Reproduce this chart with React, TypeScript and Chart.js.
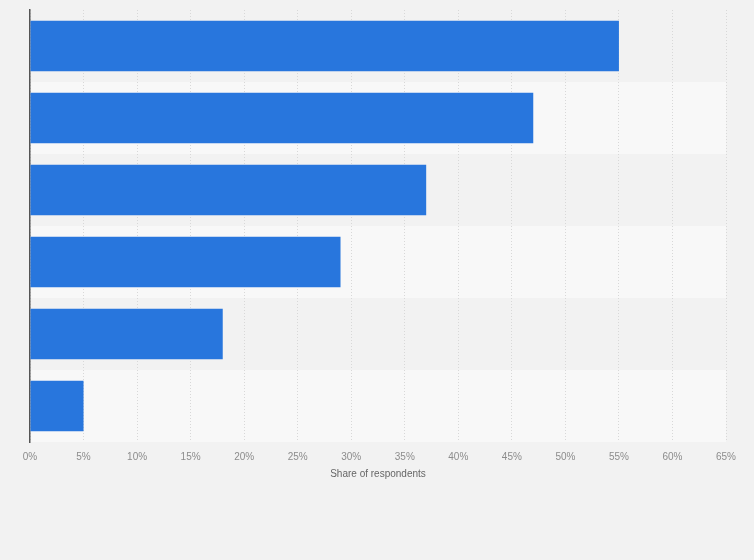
import React, { useEffect, useRef } from "react";
import { Chart, registerables } from "chart.js";

Chart.register(...registerables);

const categories = ["Item 1", "Item 2", "Item 3", "Item 4", "Item 5", "Item 6"];
const shareValues = [55, 47, 37, 29, 18, 5];
const xTickMax = 65;
const xTickStep = 5;
const xAxisTitle = "Share of respondents";

const PAGE_BG = "#f2f2f2";
const BAND_DARK = "#f2f2f2";
const BAND_LIGHT = "#f8f8f8";
const BAR_COLOR = "#2876dd";

const bandPlugin = {
  id: "bands",
  beforeDraw(chart: any) {
    const { ctx, chartArea, scales } = chart;
    ctx.save();
    ctx.fillStyle = PAGE_BG;
    ctx.fillRect(0, 0, chart.width, chart.height);
    const y = scales.y;
    const step = categories.length > 1 ? y.getPixelForValue(1) - y.getPixelForValue(0) : chartArea.bottom - chartArea.top;
    categories.forEach((_, i) => {
      const c = y.getPixelForValue(i);
      ctx.fillStyle = i % 2 === 0 ? BAND_DARK : BAND_LIGHT;
      ctx.fillRect(chartArea.left, c - step / 2, chartArea.right - chartArea.left, step);
    });
    ctx.restore();
  },
};

export default function App() {
  const ref = useRef<HTMLCanvasElement | null>(null);
  useEffect(() => {
    if (!ref.current) return;
    const chart = new Chart(ref.current, {
      type: "bar",
      data: {
        labels: categories,
        datasets: [
          {
            data: shareValues,
            backgroundColor: BAR_COLOR,
            borderWidth: 0,
            categoryPercentage: 0.7,
            barPercentage: 1,
          },
        ],
      },
      options: {
        indexAxis: "y",
        animation: false,
        responsive: false,
        devicePixelRatio: 1,
        layout: { padding: { left: 30, right: 28, top: 10, bottom: 80 } },
        plugins: {
          legend: { display: false },
          tooltip: { enabled: false },
        },
        scales: {
          x: {
            min: 0,
            max: xTickMax,
            ticks: {
              stepSize: xTickStep,
              callback: (v: any) => v + "%",
              color: "#8c8c8c",
              font: { family: "'Liberation Sans', Arial, sans-serif", size: 10 },
              padding: 9,
              maxRotation: 0,
            },
            grid: { color: "#d8d8d8", lineWidth: 1, drawTicks: false },
            border: { display: false, dash: [1, 2] },
            title: {
              display: true,
              text: xAxisTitle,
              color: "#666",
              font: { family: "'Liberation Sans', Arial, sans-serif", size: 10 },
              padding: { top: -4, bottom: 0 },
            },
          },
          y: {
            ticks: { display: false },
            grid: { display: false, drawTicks: false },
            border: { display: true, color: "#555", width: 1.5 },
          },
        },
      },
      plugins: [bandPlugin],
    });
    return () => chart.destroy();
  }, []);
  return (
    <div style={{ position: "fixed", left: 0, top: 0, width: 754, height: 560, background: PAGE_BG }}>
      <canvas ref={ref} width={754} height={560} style={{ display: "block" }} />
    </div>
  );
}
